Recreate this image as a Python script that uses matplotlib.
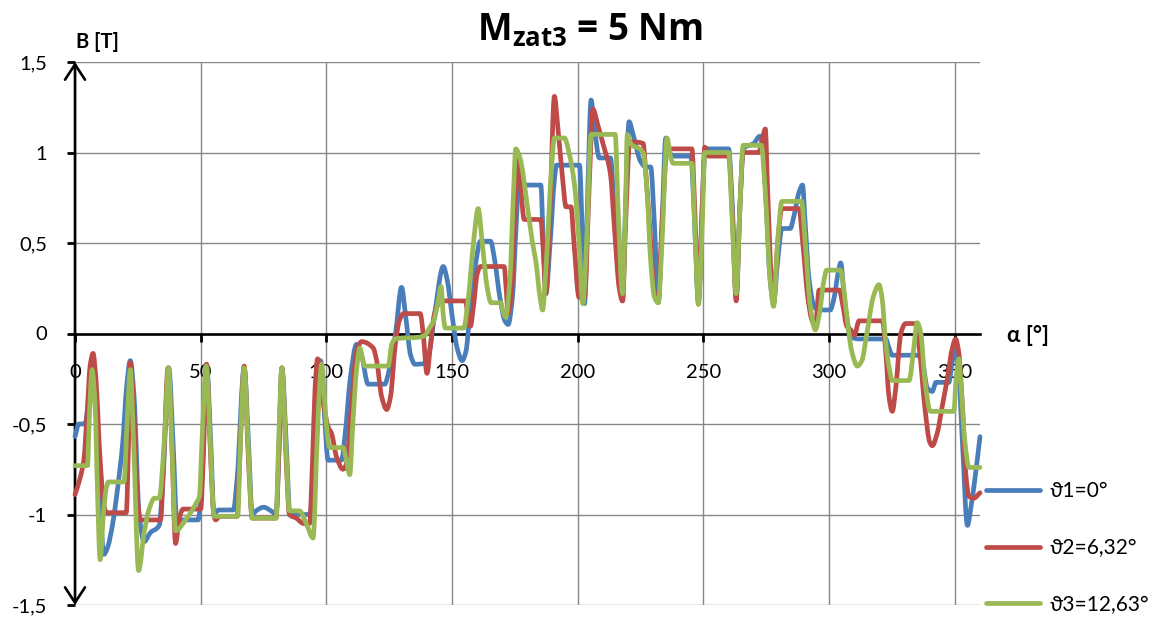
import matplotlib
matplotlib.use("Agg")
import matplotlib.pyplot as plt
import numpy as np
from matplotlib.path import Path
from matplotlib.patches import PathPatch
from matplotlib.lines import Line2D

plt.rcParams['font.family'] = ['Lato', 'DejaVu Sans']
plt.rcParams['mathtext.fontset'] = 'custom'
plt.rcParams['mathtext.rm'] = 'Open Sans'
plt.rcParams['mathtext.bf'] = 'Open Sans:bold'

# Flux density B [T] along the air gap, angle alpha [deg], for three rotor positions
alpha_1 = [0, 1.5, 4, 5.5, 7, 8.5, 10, 11.5, 13, 15, 17, 19, 20.5, 22, 23.5, 25.5, 27.5, 30, 33.5,
           35, 37.3, 39, 40.5, 43, 49, 50.5, 52.3, 54, 55.3, 57, 63, 64.5, 67.3, 69, 70.5, 72, 75,
           78, 80, 81, 82.3, 84, 85.5, 93.5, 95, 96.5, 97.7, 99, 100.7, 106, 107.5, 109.5, 112,
           114, 116.6, 123.2, 125, 127.5, 129.9, 131.5, 133.5, 135.2, 139.3, 141, 143, 146.5, 148,
           150, 152, 154, 155.5, 157, 159, 161.3, 165.3, 167, 169, 171, 172.3, 174, 175.5, 176.5,
           185.3, 186.3, 187.3, 189, 190.7, 191.5, 200.7, 201.7, 202.7, 204, 205.3, 206.5, 208.6,
           213, 214.5, 216.5, 217.8, 219, 220.4, 222, 225, 227, 229, 230.5, 232, 233.5, 235,
           236.5, 238, 245, 245.5, 246.8, 248, 249.5, 250.7, 260, 261.5, 263, 264.5, 265.8, 270,
           272.4, 273.5, 275, 276.5, 277.9, 279.5, 281.2, 284.5, 286, 288, 289.4, 290.5, 292, 294,
           295.8, 300.4, 302, 303.5, 304.6, 306, 308.6, 312, 322.5, 323.8, 325.1, 335, 337, 339,
           341, 342.5, 347.6, 349, 350.4, 351.5, 353, 355, 356.5, 358, 360]
b_1 = [-0.57, -0.5, -0.5, -0.35, -0.15, -0.4, -0.95, -1.22, -1.18, -1.05, -0.85, -0.6, -0.3, -0.15,
       -0.35, -1.0, -1.15, -1.1, -1.06, -0.8, -0.19, -0.6, -1.03, -1.03, -1.03, -0.8, -0.17, -0.6,
       -1.0, -0.975, -0.975, -0.8, -0.19, -0.6, -1.0, -0.98, -0.96, -0.98, -1.0, -0.7, -0.19, -0.6,
       -1.0, -1.0, -0.7, -0.3, -0.15, -0.4, -0.7, -0.7, -0.55, -0.25, -0.06, -0.12, -0.28, -0.28,
       -0.2, 0.0, 0.255, 0.1, -0.12, -0.17, -0.165, -0.1, 0.1, 0.37, 0.3, 0.1, -0.08, -0.15, -0.1,
       0.1, 0.35, 0.51, 0.51, 0.4, 0.2, 0.07, 0.05, 0.2, 0.6, 0.82, 0.82, 0.5, 0.22, 0.5, 0.85,
       0.93, 0.93, 0.6, 0.165, 0.8, 1.29, 1.15, 0.97, 0.97, 0.7, 0.3, 0.18, 0.7, 1.17, 1.1, 0.95,
       0.92, 0.92, 0.6, 0.17, 0.6, 1.08, 1.0, 0.98, 0.98, 0.9, 0.5, 0.17, 0.7, 1.02, 1.02, 0.7, 0.2,
       0.7, 1.02, 1.05, 1.09, 1.05, 0.7, 0.3, 0.17, 0.4, 0.58, 0.58, 0.65, 0.78, 0.82, 0.6, 0.3,
       0.15, 0.13, 0.13, 0.2, 0.33, 0.39, 0.2, -0.02, -0.03, -0.03, -0.08, -0.12, -0.12, -0.15,
       -0.3, -0.32, -0.27, -0.27, -0.15, -0.08, -0.2, -0.6, -1.06, -0.95, -0.8, -0.57]

alpha_2 = [0, 2, 3.5, 5, 6, 7.2, 8.3, 10, 11.5, 12.5, 20.4, 21.3, 22, 23.3, 24.8, 26, 34, 35.3, 37,
           38.5, 40, 41.5, 43, 50, 51, 52.3, 54, 55.3, 56, 57.5, 64.5, 65.5, 67.3, 69, 70.5, 80, 81,
           82.3, 84, 85.3, 88, 91, 93.3, 94.5, 95.5, 96.5, 97.5, 99, 100.8, 102, 104, 106.6, 108,
           110, 112, 114, 118.6, 120, 122, 124, 125.5, 127.5, 129, 130.7, 137.3, 138.5, 140, 141.5,
           142.7, 144, 145.3, 155.3, 156.3, 157.3, 158.5, 160, 161.3, 170.7, 171.5, 172.3, 174,
           175.2, 176, 177.3, 178.7, 185.3, 186.3, 187.3, 189, 190.7, 192, 194, 195.3, 197.3, 198.5,
           200.5, 202.7, 204.5, 206, 208, 210, 213, 214.5, 216.5, 217.8, 219, 220.7, 226, 227, 229,
           230.5, 232, 233.5, 235.6, 245.4, 246.5, 248, 249.5, 250.5, 252, 260, 261.5, 263, 264.5,
           265.8, 272, 273.5, 274.6, 275.5, 277, 277.9, 279.5, 281.2, 288, 289.5, 291.5, 293,
           294.5, 296, 304, 305.5, 307, 308.6, 310, 311.9, 321.2, 322.5, 323.8, 325.1, 326.5,
           328.5, 330.4, 334.4, 336, 338, 340, 341, 343, 345, 347, 349, 350.3, 351.5, 353, 354.5,
           355.6, 357.5, 360]
b_2 = [-0.89, -0.8, -0.7, -0.4, -0.18, -0.11, -0.25, -0.7, -0.95, -0.99, -0.99, -0.6, -0.16, -0.4,
       -0.9, -1.03, -1.03, -0.7, -0.19, -0.6, -1.16, -1.02, -0.97, -0.97, -0.7, -0.17, -0.7, -1.01,
       -1.03, -1.01, -1.01, -0.7, -0.18, -0.7, -1.02, -1.02, -0.7, -0.19, -0.7, -1.0, -1.02, -1.05,
       -1.05, -0.7, -0.3, -0.14, -0.2, -0.4, -0.52, -0.55, -0.68, -0.75, -0.72, -0.4, -0.1, -0.045,
       -0.08, -0.15, -0.35, -0.42, -0.35, -0.05, 0.07, 0.11, 0.11, 0.0, -0.22, -0.05, 0.09, 0.15,
       0.18, 0.18, 0.1, 0.04, 0.15, 0.33, 0.37, 0.37, 0.25, 0.11, 0.3, 0.8, 0.97, 0.8, 0.63, 0.63,
       0.45, 0.22, 0.7, 1.31, 1.15, 0.85, 0.7, 0.7, 0.5, 0.2, 0.2, 0.8, 1.24, 1.15, 1.05, 0.88, 0.6,
       0.25, 0.18, 0.6, 1.06, 1.05, 0.9, 0.5, 0.22, 0.18, 0.6, 1.02, 1.02, 0.7, 0.18, 0.7, 1.03,
       0.98, 0.98, 0.65, 0.18, 0.7, 1.0, 1.0, 1.08, 1.13, 0.8, 0.3, 0.17, 0.5, 0.69, 0.69, 0.5, 0.2,
       0.08, 0.04, 0.24, 0.24, 0.15, 0.04, 0.02, -0.01, 0.07, 0.07, -0.1, -0.35, -0.43, -0.3, 0.0,
       0.055, 0.055, -0.1, -0.4, -0.6, -0.62, -0.55, -0.4, -0.25, -0.08, -0.03, -0.1, -0.4, -0.8,
       -0.9, -0.91, -0.88]

alpha_3 = [0, 5, 5.6, 6.8, 8, 9, 10, 11.3, 12.5, 13.3, 19.5, 20.7, 22, 23.3, 25.3, 27.5, 29.5, 31.6,
           33.5, 35.5, 37.2, 38.5, 40, 44, 48.5, 49.5, 50.5, 52.2, 53.8, 55.3, 64.7, 65.8, 67.3,
           68.8, 70.5, 80, 81, 82.3, 83.8, 85.3, 89.3, 92, 94.7, 96.3, 97.5, 98.1, 99.2, 100.3,
           101.3, 106.6, 108, 109.3, 110.5, 112, 113.3, 114.5, 115.3, 124.6, 126, 127.3, 137, 139.3,
           141, 142.7, 144.5, 145.6, 146.5, 147.3, 154.6, 156.5, 158.5, 160.4, 162, 164, 165.5,
           169.3, 170.5, 171.3, 173, 174.5, 175.3, 177, 180, 182, 183.3, 185, 186, 187.5, 189.5,
           190.7, 194.7, 196.5, 198.7, 200.5, 202, 203.5, 205.3, 214.9, 216, 217.8, 219, 219.7, 221,
           226, 227.5, 229, 230.5, 232, 233.5, 235.5, 237, 238, 245.4, 246.5, 248, 249.5, 250.5, 260,
           261.5, 263, 264.5, 265.8, 273, 274.5, 276.5, 277.9, 279.5, 281.2, 289, 290.5, 292.5,
           294.5, 296, 298, 299, 304.5, 305.3, 307, 309, 311.2, 313, 315, 317.5, 319.8, 321, 322.5,
           324, 325.1, 331.8, 333.5, 335, 336.5, 338, 340.3, 349.6, 350.5, 351.6, 352.5, 354, 355.6,
           360]
b_3 = [-0.73, -0.73, -0.5, -0.2, -0.4, -0.9, -1.25, -1.0, -0.85, -0.82, -0.82, -0.5, -0.2, -0.6,
       -1.31, -1.1, -0.97, -0.91, -0.91, -0.6, -0.19, -0.6, -1.09, -1.03, -0.93, -0.9, -0.6, -0.18,
       -0.6, -1.01, -1.01, -0.6, -0.19, -0.6, -1.02, -1.02, -0.6, -0.19, -0.6, -0.98, -0.98, -1.05,
       -1.13, -0.6, -0.25, -0.17, -0.35, -0.55, -0.63, -0.63, -0.7, -0.78, -0.5, -0.2, -0.08, -0.15,
       -0.18, -0.18, -0.06, -0.03, -0.02, -0.01, 0.03, 0.07, 0.18, 0.26, 0.1, 0.03, 0.03, 0.2, 0.5,
       0.69, 0.5, 0.25, 0.17, 0.17, 0.11, 0.09, 0.3, 0.8, 1.02, 0.97, 0.7, 0.5, 0.4, 0.2, 0.13, 0.4,
       0.9, 1.08, 1.08, 1.0, 0.82, 0.5, 0.165, 0.5, 1.1, 1.1, 0.7, 0.22, 0.7, 1.1, 1.05, 1.0, 0.8,
       0.4, 0.2, 0.17, 0.5, 1.08, 0.97, 0.94, 0.94, 0.6, 0.16, 0.6, 1.0, 1.0, 0.6, 0.22, 0.7, 1.04,
       1.04, 0.8, 0.3, 0.15, 0.5, 0.73, 0.73, 0.5, 0.15, 0.02, 0.1, 0.3, 0.35, 0.35, 0.3, 0.1, -0.1,
       -0.18, -0.15, 0.0, 0.2, 0.27, 0.2, -0.05, -0.2, -0.26, -0.26, -0.1, 0.06, 0.0, -0.25, -0.43,
       -0.43, -0.25, -0.14, -0.3, -0.6, -0.74, -0.74]

series_labels = ['ϑ1=0°', 'ϑ2=6,32°', 'ϑ3=12,63°']
series_colors = ['#4a7ebb', '#be4b48', '#98b954']
x_ticks = [0, 50, 100, 150, 200, 250, 300, 350]
y_ticks = [-1.5, -1.0, -0.5, 0.0, 0.5, 1.0, 1.5]
y_tick_labels = ['-1,5', '-1', '-0,5', '0', '0,5', '1', '1,5']

LINE_W = 3.4


def smoothed_path(xs, ys):
    """Shape-preserving cubic Bezier path through every sample (no overshoot)."""
    x = np.asarray(xs, float)
    y = np.asarray(ys, float)
    h = np.diff(x)
    d = np.diff(y) / h
    m = np.zeros_like(y)
    m[0], m[-1] = d[0], d[-1]
    for k in range(1, len(x) - 1):
        if d[k - 1] * d[k] > 0:
            w1 = 2 * h[k] + h[k - 1]
            w2 = h[k] + 2 * h[k - 1]
            m[k] = (w1 + w2) / (w1 / d[k - 1] + w2 / d[k])
    verts = [(x[0], y[0])]
    codes = [Path.MOVETO]
    for k in range(len(x) - 1):
        verts += [(x[k] + h[k] / 3, y[k] + m[k] * h[k] / 3),
                  (x[k + 1] - h[k] / 3, y[k + 1] - m[k + 1] * h[k] / 3),
                  (x[k + 1], y[k + 1])]
        codes += [Path.CURVE4] * 3
    return Path(verts, codes)


fig = plt.figure(figsize=(11.67, 6.17), dpi=100)
ax = fig.add_axes([75 / 1167, 12 / 617, 905 / 1167, 543 / 617])
ax.set_axisbelow(True)

handles = []
for xs, ys, lab, col in zip([alpha_1, alpha_2, alpha_3], [b_1, b_2, b_3],
                            series_labels, series_colors):
    ax.add_patch(PathPatch(smoothed_path(xs, ys), fill=False, edgecolor=col, lw=LINE_W,
                           joinstyle='round', capstyle='round', zorder=3, clip_on=False))
    handles.append(Line2D([], [], color=col, lw=LINE_W, solid_capstyle='round', label=lab))

ax.set_xlim(0, 360)
ax.set_ylim(-1.5, 1.5)

# axes through the origin
for side in ('top', 'right', 'left'):
    ax.spines[side].set_visible(False)
ax.spines['bottom'].set_position(('data', 0))
ax.spines['bottom'].set_linewidth(1.9)
ax.spines['bottom'].set_zorder(2)
ax.spines['left'].set_position(('data', 0))

ax.set_xticks(x_ticks)
ax.set_yticks(y_ticks)
ax.set_yticklabels(y_tick_labels)
ax.tick_params(axis='x', direction='out', length=6, width=2, pad=16, labelsize=14.5)
ax.tick_params(axis='y', direction='out', length=6, width=2, pad=14, labelsize=14.5)
ax.grid(True, color='#878787', lw=1.0)

# vertical axis with arrow heads at both ends
ax.annotate('', xy=(0, 1.5), xytext=(0, -1.5),
            arrowprops=dict(arrowstyle='<->,head_length=0.55,head_width=0.36',
                            lw=1.9, color='black', shrinkA=0, shrinkB=0,
                            mutation_scale=20), zorder=2)

fig.text(97 / 1167, 1 - 42 / 617, 'B [T]', fontsize=14.5, fontweight='bold',
         ha='center', va='center')
fig.text(1028 / 1167, 1 - 336 / 617, 'α [°]', fontsize=16, fontweight='bold',
         ha='center', va='center')
fig.text(590 / 1167, 1 - 31 / 617, r'$\mathbf{M_{zat3}}$ = 5 Nm', fontsize=26.5,
         fontweight='bold', family=['Open Sans', 'DejaVu Sans'], ha='center', va='center')

fig.legend(handles=handles, loc='upper left', bbox_to_anchor=(986 / 1167, 1 - 481 / 617),
           frameon=False, fontsize=15, handlelength=2.6, handletextpad=0.45,
           labelspacing=1.77, borderpad=0, borderaxespad=0)

fig.savefig('out.png', dpi=100)
